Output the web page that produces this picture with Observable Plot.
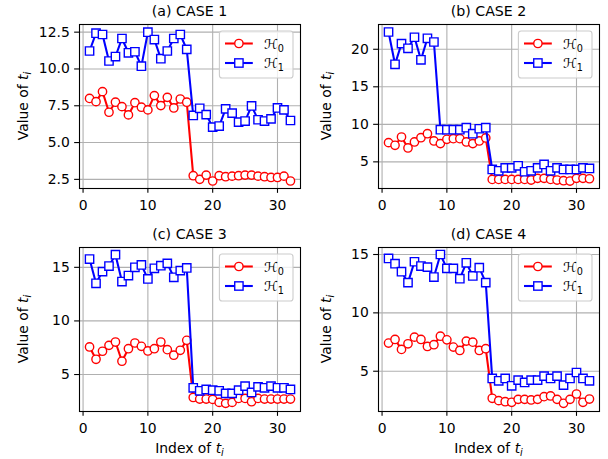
<!DOCTYPE html>
<html>
<head>
<meta charset="utf-8">
<script src="https://cdn.jsdelivr.net/npm/d3@7"></script>
<script src="https://cdn.jsdelivr.net/npm/@observablehq/plot@0.6"></script>
<style>
  html, body { margin: 0; padding: 0; background: #fff; }
  #fig { position: relative; width: 608px; height: 459px; overflow: hidden; font-family: "DejaVu Sans", sans-serif; color: #000; }
  #fig svg { position: absolute; left: 0; top: 0; }
</style>
</head>
<body>
<div id="fig"></div>
<script>
// ---- data ----
const index = [1,2,3,4,5,6,7,8,9,10,11,12,13,14,15,16,17,18,19,20,21,22,23,24,25,26,27,28,29,30,31,32];

const case1H0 = [8.00,7.78,8.46,7.06,7.74,7.44,6.88,7.71,7.40,7.22,8.19,7.51,8.07,7.35,7.96,7.74,
                 2.75,2.50,2.79,2.39,2.75,2.68,2.72,2.75,2.79,2.79,2.72,2.68,2.63,2.63,2.72,2.39];
const case1H1 = [11.22,12.43,12.34,10.54,10.84,12.07,11.10,11.17,10.19,12.50,12.00,10.70,11.22,12.07,12.34,11.33,
                 6.84,7.33,6.90,6.05,6.12,7.29,7.00,6.39,6.46,7.49,6.55,6.46,6.61,7.35,7.22,6.50];

const case2H0 = [7.56,7.20,8.31,6.85,7.65,8.22,8.75,7.78,7.43,8.00,8.09,8.09,7.65,7.43,7.78,8.18,
                 2.66,2.66,2.66,2.66,2.66,2.66,2.58,2.80,2.80,2.66,2.58,2.49,2.44,2.80,2.80,2.75];
const case2H1 = [22.30,18.00,20.75,20.13,21.60,18.60,21.46,20.97,9.28,9.28,9.28,9.28,9.55,8.75,9.41,9.55,
                 3.99,3.81,4.20,4.20,4.47,3.68,3.81,4.20,4.65,3.81,4.20,3.99,3.99,3.99,4.20,4.12];

const case3H0 = [7.57,6.42,7.17,7.72,8.03,6.24,7.41,7.94,7.63,7.20,7.41,8.03,7.32,6.80,7.26,8.19,
                 2.86,2.71,2.71,2.68,2.40,2.31,2.40,2.77,2.77,2.46,2.77,2.71,2.71,2.71,2.71,2.71];
const case3H1 = [15.77,13.51,14.60,15.12,16.18,13.67,14.23,15.00,15.22,13.92,14.91,15.15,15.37,14.07,14.69,14.94,
                 3.76,3.48,3.61,3.54,3.48,3.24,3.24,3.54,3.92,3.33,3.85,3.76,3.92,3.76,3.76,3.61];

const case4H0 = [7.41,7.72,6.87,7.35,7.92,7.72,7.12,7.27,8.00,7.69,7.07,6.78,7.58,7.49,6.78,6.93,
                 2.68,2.48,2.39,2.34,2.59,2.59,2.54,2.59,2.82,2.88,2.59,2.25,2.59,3.05,2.34,2.62];
const case4H1 = [14.66,14.21,13.53,12.59,14.38,14.01,13.92,13.07,15.00,13.81,13.81,12.93,14.29,13.16,13.87,12.59,
                 4.38,4.18,4.38,3.75,4.24,4.04,4.24,4.24,4.58,4.38,4.58,3.81,4.38,4.89,4.38,4.18];

const titles = ["(a) CASE 1", "(b) CASE 2", "(c) CASE 3", "(d) CASE 4"];
const xTicks = [0, 10, 20, 30];
const yTicks1 = [2.5, 5, 7.5, 10, 12.5];
const yTicks2 = [5, 10, 15, 20];
const yTicks3 = [5, 10, 15];
const yTicks4 = [5, 10, 15];

// ---- layout ----
const W = 608, H = 459;
const FS = 13.9;
const red = "#ff0000", blue = "#0000ff";
const panels = [
  {title: titles[0], h0: case1H0, h1: case1H1, ydom: [1.88, 13.02], yticks: yTicks1, fmt: d3.format(".1f"), L: 79,  R: 300, T: 24,  B: 188, ylabX: 28,  xlab: false},
  {title: titles[1], h0: case2H0, h1: case2H1, ydom: [1.45, 23.30], yticks: yTicks2, fmt: d3.format("d"),   L: 378, R: 599, T: 24,  B: 188, ylabX: 331, xlab: false},
  {title: titles[2], h0: case3H0, h1: case3H1, ydom: [1.55, 16.85], yticks: yTicks3, fmt: d3.format("d"),   L: 79,  R: 300, T: 247, B: 411, ylabX: 28,  xlab: true},
  {title: titles[3], h0: case4H0, h1: case4H1, ydom: [1.55, 15.60], yticks: yTicks4, fmt: d3.format("d"),   L: 378, R: 599, T: 247, B: 411, ylabX: 331, xlab: true}
];

const fig = document.getElementById("fig");

for (const p of panels) {
  const data = index.map((x, i) => ({x, h0: p.h0[i], h1: p.h1[i]}));
  const chart = Plot.plot({
    width: W, height: H,
    marginLeft: p.L, marginRight: W - p.R, marginTop: p.T, marginBottom: H - p.B,
    style: {background: "transparent", fontFamily: "DejaVu Sans", fontSize: FS + "px", color: "#000", overflow: "visible"},
    x: {domain: [-0.55, 33.55]},
    y: {domain: p.ydom},
    marks: [
      Plot.gridX(xTicks, {stroke: "#b0b0b0", strokeOpacity: 1, strokeWidth: 1.1}),
      Plot.gridY(p.yticks, {stroke: "#b0b0b0", strokeOpacity: 1, strokeWidth: 1.1}),
      Plot.line(data, {x: "x", y: "h0", stroke: red, strokeWidth: 2.08}),
      Plot.dot(data, {x: "x", y: "h0", r: 4.17, fill: "white", stroke: red, strokeWidth: 1.39}),
      Plot.line(data, {x: "x", y: "h1", stroke: blue, strokeWidth: 2.08}),
      Plot.dot(data, {x: "x", y: "h1", symbol: "square", r: 4.7, fill: "white", stroke: blue, strokeWidth: 1.39}),
      Plot.frame({stroke: "#000", strokeWidth: 1.1}),
      Plot.axisX(xTicks, {tickSize: 4.86, tickPadding: 7, strokeWidth: 1.1, fontSize: FS, label: null, tickFormat: d3.format("d")}),
      Plot.axisY(p.yticks, {tickSize: 4.86, tickPadding: 4.86, strokeWidth: 1.1, fontSize: FS, label: null, tickFormat: p.fmt})
    ]
  });
  fig.appendChild(chart);
}

// ---- overlay: titles, axis labels, legends ----
const ov = d3.select(fig).append("svg")
  .attr("width", W).attr("height", H)
  .style("pointer-events", "none")
  .attr("font-family", "DejaVu Sans, sans-serif");

for (const p of panels) {
  const cx = (p.L + p.R) / 2, cy = (p.T + p.B) / 2;
  // title
  ov.append("text").attr("x", cx).attr("y", p.T - 8).attr("text-anchor", "middle")
    .attr("font-size", 14.2).attr("fill", "#000").text(p.title);
  // y label
  const yl = ov.append("text").attr("transform", `translate(${p.ylabX},${cy}) rotate(-90)`)
    .attr("text-anchor", "middle").attr("font-size", FS).attr("fill", "#000");
  yl.append("tspan").text("Value of ");
  yl.append("tspan").attr("font-style", "italic").text("t");
  yl.append("tspan").attr("font-style", "italic").attr("font-size", 9.7).attr("dy", 2.6).text("i");
  // x label
  if (p.xlab) {
    const xl = ov.append("text").attr("x", cx).attr("y", 453).attr("text-anchor", "middle")
      .attr("font-size", FS).attr("fill", "#000");
    xl.append("tspan").text("Index of ");
    xl.append("tspan").attr("font-style", "italic").text("t");
    xl.append("tspan").attr("font-style", "italic").attr("font-size", 9.7).attr("dy", 2.6).text("i");
  }
  // legend
  const bw = 73.6, bh = 47;
  const bx = p.R - 7 - bw, by = p.T + 7;
  const g = ov.append("g");
  g.append("rect").attr("x", bx).attr("y", by).attr("width", bw).attr("height", bh)
    .attr("rx", 2.8).attr("fill", "white").attr("fill-opacity", 0.8)
    .attr("stroke", "#cccccc").attr("stroke-width", 1.1);
  const rows = [{c: red, sym: "circle", sub: "0", y: by + 12.5}, {c: blue, sym: "square", sub: "1", y: by + 32}];
  rows.forEach(r => {
    const x0 = bx + 5.6, x1 = x0 + 27.8, xm = (x0 + x1) / 2;
    g.append("line").attr("x1", x0).attr("x2", x1).attr("y1", r.y).attr("y2", r.y)
      .attr("stroke", r.c).attr("stroke-width", 2.08);
    if (r.sym === "circle") {
      g.append("circle").attr("cx", xm).attr("cy", r.y).attr("r", 4.17)
        .attr("fill", "white").attr("stroke", r.c).attr("stroke-width", 1.39);
    } else {
      g.append("rect").attr("x", xm - 4.17).attr("y", r.y - 4.17).attr("width", 8.34).attr("height", 8.34)
        .attr("fill", "white").attr("stroke", r.c).attr("stroke-width", 1.39);
    }
    const t = g.append("text").attr("x", x1 + 11.1).attr("y", r.y + 5).attr("font-size", FS).attr("fill", "#000");
    t.append("tspan").text("\u210B");
    t.append("tspan").attr("font-size", 9.7).attr("dy", 3).text(r.sub);
  });
}
</script>
</body>
</html>
